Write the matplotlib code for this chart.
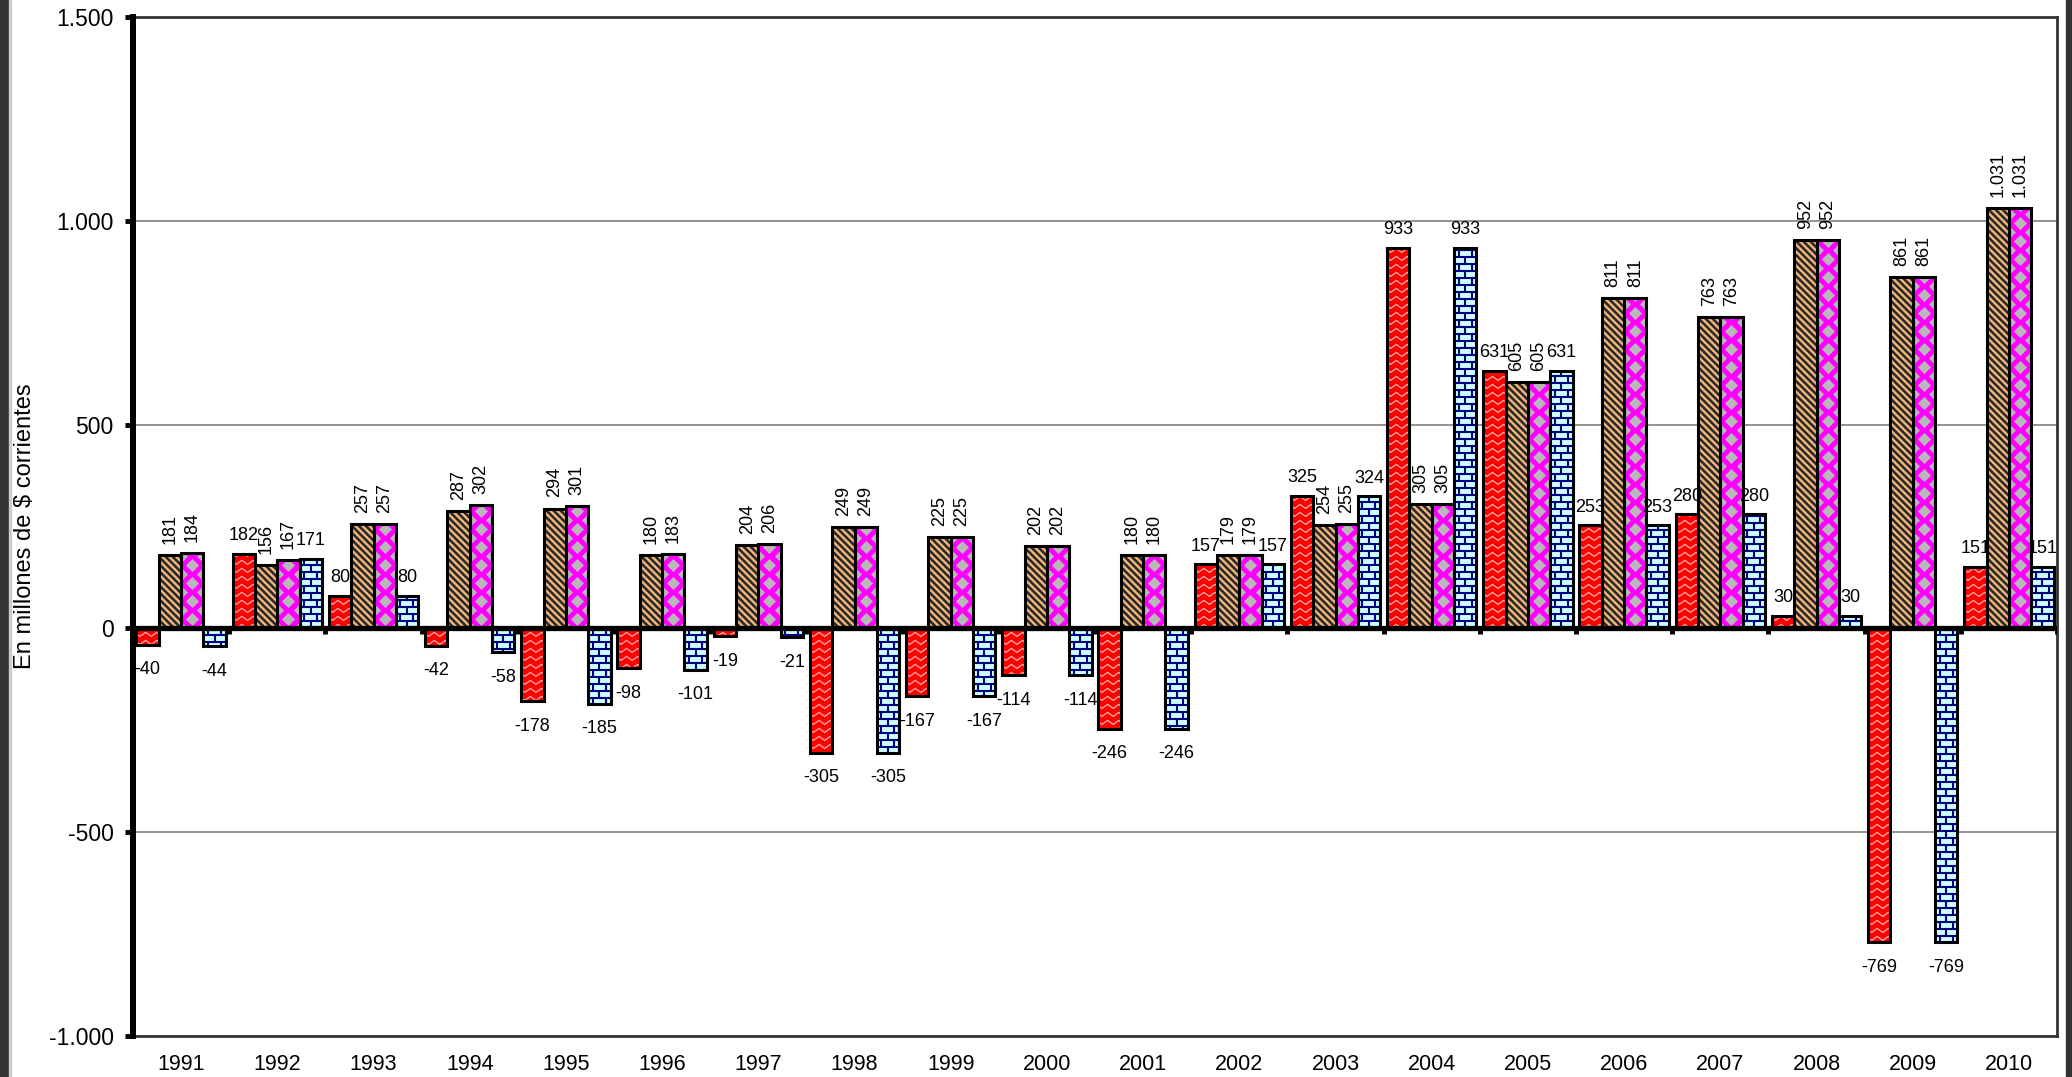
import numpy as np
import matplotlib
matplotlib.use("Agg")
import matplotlib.pyplot as plt
import matplotlib.patches as mpatches
from matplotlib.collections import LineCollection

plt.rcParams['font.family'] = ['Liberation Sans', 'DejaVu Sans']

years = [str(y) for y in range(1991, 2011)]
serie_a = [-40, 182, 80, -42, -178, -98, -19, -305, -167, -114, -246, 157, 325, 933, 631, 253, 280, 30, -769, 151]
serie_b = [181, 156, 257, 287, 294, 180, 204, 249, 225, 202, 180, 179, 254, 305, 605, 811, 763, 952, 861, 1031]
serie_c = [184, 167, 257, 302, 301, 183, 206, 249, 225, 202, 180, 179, 255, 305, 605, 811, 763, 952, 861, 1031]
serie_d = [-44, 171, 80, -58, -185, -101, -21, -305, -167, -114, -246, 157, 324, 933, 631, 253, 280, 30, -769, 151]

yticks = [-1000, -500, 0, 500, 1000, 1500]


def fmt(v):
    return f"{v:,}".replace(",", ".")


fig = plt.figure(figsize=(20.72, 10.77), dpi=100)
ax = fig.add_axes([133 / 2072, 1 - 1036 / 1077, (2057 - 133) / 2072, (1036 - 17) / 1077])

# dark frame bands at the figure edges
fig.patches.append(mpatches.Rectangle((0, 0), 8 / 2072, 1, transform=fig.transFigure,
                                      color='#333333', zorder=0))
fig.patches.append(mpatches.Rectangle((9 / 2072, 0), 2 / 2072, 1, transform=fig.transFigure,
                                      color='#cccccc', zorder=0))
fig.patches.append(mpatches.Rectangle((2066 / 2072, 0), 6 / 2072, 1, transform=fig.transFigure,
                                      color='#333333', zorder=0))

x = np.arange(len(years))
w = 0.232
offs = [-1.5 * w, -0.5 * w, 0.5 * w, 1.5 * w]

ax.set_xlim(-0.5, len(years) - 0.5)
ax.set_ylim(-1000, 1500)

bars_a = ax.bar(x + offs[0], serie_a, w, color='#ff0000', linewidth=0, zorder=2)
bars_b = ax.bar(x + offs[1], serie_b, w, color='#f7b87a', linewidth=0, zorder=2)
bars_c = ax.bar(x + offs[2], serie_c, w, color='#ff00ff', linewidth=0, zorder=2)
bars_d = ax.bar(x + offs[3], serie_d, w, color='#ccffff', linewidth=0, zorder=2)

inv = ax.transData.inverted()
y_zero = ax.transData.transform((0, 0))[1]


def px_box(r):
    x0, y0 = r.get_x(), r.get_y()
    (X0, Ya), (X1, Yb) = ax.transData.transform([(x0, y0), (x0 + r.get_width(), y0 + r.get_height())])
    return X0, min(Ya, Yb), X1, max(Ya, Yb)


def add_texture(r, segs_px, color, lw):
    segs = [inv.transform(np.array(s)) for s in segs_px]
    lc = LineCollection(segs, colors=color, linewidths=lw, zorder=2.5)
    ax.add_collection(lc)
    lc.set_clip_path(r)


# A: light zigzag on red
for r in bars_a:
    X0, Y0, X1, Y1 = px_box(r)
    bw = X1 - X0
    segs = []
    k0 = int(np.floor((Y0 - y_zero) / 8)) - 1
    k1 = int(np.ceil((Y1 - y_zero) / 8)) + 1
    for k in range(k0, k1):
        yy = y_zero + k * 8
        pts = [(X0 - 2 + j * bw / 4, yy + (4 if j % 2 == 0 else 0)) for j in range(6)]
        segs.append(pts)
    add_texture(r, segs, '#ffb0b0', 0.9)

# B: dark diagonal stripes
for r in bars_b:
    X0, Y0, X1, Y1 = px_box(r)
    segs = []
    c = np.floor((X0 + Y0) / 7) * 7
    while c < X1 + Y1 + 7:
        segs.append([(c - Y1 - 5, Y1 + 5), (c - Y0 + 5, Y0 - 5)])
        c += 7
    add_texture(r, segs, '#2b2b2b', 1.9)

# C: grey diamonds on magenta
px_unit = ax.transData.transform((0, 1))[1] - y_zero
step = 18 / px_unit
for r in bars_c:
    x0, bw, top = r.get_x(), r.get_width(), r.get_height()
    ys_mid = np.arange(step / 2, top + step, step)
    ys_edge = np.arange(0, top + step, step)
    xs = np.concatenate([np.full(len(ys_mid), x0 + bw / 2),
                         np.full(len(ys_edge), x0), np.full(len(ys_edge), x0 + bw)])
    ys = np.concatenate([ys_mid, ys_edge, ys_edge])
    sc = ax.scatter(xs, ys, marker='D', s=44, color='#b8b8b8', linewidths=0, zorder=2.5)
    sc.set_clip_path(r)

# D: navy bricks
for r in bars_d:
    X0, Y0, X1, Y1 = px_box(r)
    xc = (X0 + X1) / 2
    segs = []
    k0 = int(np.floor((Y0 - y_zero) / 7)) - 1
    k1 = int(np.ceil((Y1 - y_zero) / 7)) + 1
    for k in range(k0, k1):
        yy = y_zero + k * 7
        segs.append([(X0 - 2, yy), (X1 + 2, yy)])
        if k % 2 == 0:
            segs.append([(xc, yy), (xc, yy + 7)])
        else:
            segs.append([(xc - 6.5, yy), (xc - 6.5, yy + 7)])
            segs.append([(xc + 6.5, yy), (xc + 6.5, yy + 7)])
    add_texture(r, segs, '#000080', 1.5)

# black outlines
for vals, o in zip([serie_a, serie_b, serie_c, serie_d], offs):
    ax.bar(x + o, vals, w, fill=False, edgecolor='black', linewidth=2.2, zorder=3)

# zero line and category separators
ax.axhline(0, color='black', linewidth=3.8, zorder=4)
ax.vlines(np.arange(len(years) + 1) - 0.5, -14, 0, color='black', linewidth=3.5, zorder=4)

# value labels
for vals, o, rot in [(serie_a, offs[0], False), (serie_b, offs[1], True),
                     (serie_c, offs[2], True), (serie_d, offs[3], False)]:
    for xi, v in zip(x, vals):
        if v >= 0:
            if rot:
                ax.annotate(fmt(v), (xi + o, v), xytext=(0, 8), textcoords='offset points',
                            ha='center', va='bottom', rotation=90, fontsize=13, zorder=5)
            else:
                ax.annotate(fmt(v), (xi + o, v), xytext=(0, 7), textcoords='offset points',
                            ha='center', va='bottom', fontsize=13, zorder=5)
        else:
            ax.annotate(fmt(v), (xi + o, v), xytext=(0, -12), textcoords='offset points',
                        ha='center', va='top', fontsize=13, zorder=5)

# axes styling
ax.set_yticks(yticks)
ax.set_yticklabels([fmt(t) for t in yticks], fontsize=16.5)
ax.set_xticks(x)
ax.set_xticklabels(years, fontsize=15.5)
ax.tick_params(axis='x', length=0, pad=13)
ax.tick_params(axis='y', length=6, width=3.5, direction='out', pad=8)
ax.grid(axis='y', color='#808080', linewidth=1.2)
ax.set_axisbelow(True)

ax.spines['left'].set_linewidth(4.3)
ax.spines['left'].set_color('black')
ax.spines['left'].set_zorder(6)
for s in ['top', 'right', 'bottom']:
    ax.spines[s].set_color('#333333')
    ax.spines[s].set_linewidth(2)

ax.set_ylabel("En millones de $ corrientes", fontsize=17)
ax.yaxis.set_label_coords(-0.0505, 0.5)

fig.savefig("out.png", dpi=100)
